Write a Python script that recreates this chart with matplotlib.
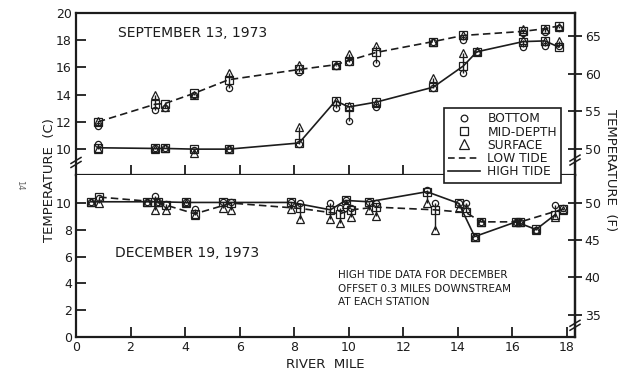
import matplotlib
matplotlib.use('Agg')
import matplotlib.pyplot as plt
import numpy as np
from matplotlib.lines import Line2D

plt.rcParams['font.family'] = ['DejaVu Sans']
INK = '#1c1c1c'

# ---------------- data (temperature in deg C, position in river miles) ----------------
sep_low_mile = [0.8, 2.9, 3.26, 4.33, 5.6, 8.18, 9.52, 10.0, 11.0, 13.1, 14.2, 16.4, 17.2, 17.7]
sep_low_bottom = [11.7, 12.9, 13.0, 14.0, 14.5, 15.7, 16.1, 16.4, 16.3, 17.9, 18.0, 18.5, 18.6, 18.9]
sep_low_mid = [12.0, 13.3, 13.35, 14.1, 15.1, 15.85, 16.2, 16.5, 17.1, 17.9, 18.35, 18.65, 18.85, 19.05]
sep_low_surface = [12.1, 14.0, 13.1, 14.0, 15.6, 16.2, 16.15, 17.0, 17.6, 17.9, 18.4, 18.8, 18.85, 19.0]

sep_high_mile = [0.8, 2.9, 3.26, 4.33, 5.6, 8.18, 9.52, 10.0, 11.0, 13.1, 14.2, 14.7, 16.4, 17.2, 17.7]
sep_high_bottom = [10.4, 10.05, 10.05, 9.9, 10.0, 10.4, 13.0, 12.1, 13.1, 14.5, 15.6, 17.15, 17.5, 17.6, 17.6]
sep_high_mid = [10.1, 10.05, 10.05, 10.0, 10.0, 10.45, 13.55, 13.1, 13.45, 14.55, 16.1, 17.15, 17.9, 17.95, 17.5]
sep_high_surface = [10.0, 10.0, 10.05, 9.7, 10.0, 11.6, 13.5, 13.2, 13.4, 15.25, 17.05, 17.2, 18.05, 17.95, 17.95]

dec_low_mile = [0.85, 2.9, 3.3, 4.36, 5.7, 8.23, 9.67, 10.1, 11.0, 13.15, 14.3, 14.86, 16.3, 17.85]
dec_low_bottom = [10.4, 10.5, 9.9, 9.55, 10.1, 10.0, 9.6, 9.6, 10.0, 10.0, 10.0, 8.6, 8.6, 9.6]
dec_low_mid = [10.45, 10.1, 9.85, 9.2, 10.0, 9.6, 9.2, 9.5, 9.7, 9.5, 9.3, 8.6, 8.6, 9.55]
dec_low_surface = [10.0, 9.5, 9.5, 9.1, 9.5, 8.85, 8.5, 9.0, 9.05, 8.0, 9.6, 8.6, 8.6, 9.5]

dec_high_mile = [0.55, 2.6, 3.0, 4.05, 5.39, 7.9, 9.33, 9.89, 10.74, 12.87, 14.04, 14.62, 16.14, 16.87, 17.55]
dec_high_bottom = [10.1, 10.1, 10.1, 10.05, 10.05, 10.05, 10.0, 10.2, 10.1, 11.0, 10.0, 7.5, 8.6, 8.0, 9.85]
dec_high_mid = [10.1, 10.1, 10.1, 10.05, 10.05, 10.05, 9.5, 10.2, 10.1, 10.85, 9.98, 7.5, 8.6, 8.03, 9.1]
dec_high_surface = [10.05, 10.1, 10.1, 10.0, 9.6, 9.55, 8.8, 9.9, 9.5, 9.98, 9.6, 7.5, 8.6, 8.0, 9.0]

x_ticks = [0, 2, 4, 6, 8, 10, 12, 14, 16, 18]
top_c_ticks = [10, 12, 14, 16, 18, 20]
bot_c_ticks = [0, 2, 4, 6, 8, 10]
top_f_ticks = [50, 55, 60, 65]
bot_f_ticks = [35, 40, 45, 50]

# ---------------- figure ----------------
fig = plt.figure(figsize=(6.18, 3.73), dpi=100)
L, R = 76 / 618, 575 / 618
ax_top = fig.add_axes([L, 1 - 175 / 373, R - L, (175 - 13) / 373])
ax_bot = fig.add_axes([L, 1 - 337 / 373, R - L, (337 - 175) / 373])


def c2f(c):
    return np.asarray(c) * 9 / 5 + 32


def f2c(f):
    return (np.asarray(f) - 32) * 5 / 9


def style(ax):
    for s in ax.spines.values():
        s.set_linewidth(1.6)
        s.set_color(INK)
    ax.tick_params(direction='in', length=7, width=1.3, color=INK,
                   labelsize=9, labelcolor=INK, pad=3)


def draw_series(ax, mile, bottom, mid, surface, ls):
    mile = np.asarray(mile)
    stack = np.vstack([bottom, mid, surface])
    ax.vlines(mile, stack.min(axis=0), stack.max(axis=0), color=INK, lw=1.0, zorder=2)
    if ls == '--':
        ax.plot(mile, mid, color=INK, lw=1.2, ls='--', dashes=(4.5, 2.5), zorder=2)
    else:
        ax.plot(mile, mid, color=INK, lw=1.2, ls='-', zorder=2)
    kw = dict(ls='none', mfc='none', mec=INK, mew=0.9, zorder=3)
    ax.plot(mile, bottom, marker='o', ms=4.5, **kw)
    ax.plot(mile, mid, marker='s', ms=5.4, **kw)
    ax.plot(mile, surface, marker='^', ms=6.2, **kw)


for ax in (ax_top, ax_bot):
    style(ax)
    ax.set_xlim(0, 18.3)

# top panel (September)
ax_top.set_ylim(8.1, 20)
ax_top.set_yticks(top_c_ticks)
ax_top.set_xticks(x_ticks[1:-1])
ax_top.tick_params(axis='x', labelbottom=False)
draw_series(ax_top, sep_low_mile, sep_low_bottom, sep_low_mid, sep_low_surface, '--')
draw_series(ax_top, sep_high_mile, sep_high_bottom, sep_high_mid, sep_high_surface, '-')
ax_top.text(1.55, 18.5, 'SEPTEMBER 13, 1973', fontsize=10, color=INK, va='center', ha='left')

# bottom panel (December)
ax_bot.set_ylim(0, 12.1)
ax_bot.set_yticks(bot_c_ticks)
ax_bot.set_xticks(x_ticks)
ax_bot.spines['top'].set_visible(False)
draw_series(ax_bot, dec_low_mile, dec_low_bottom, dec_low_mid, dec_low_surface, '--')
draw_series(ax_bot, dec_high_mile, dec_high_bottom, dec_high_mid, dec_high_surface, '-')
ax_bot.text(1.43, 6.3, 'DECEMBER 19, 1973', fontsize=10, color=INK, va='center', ha='left')
ax_bot.text(9.6, 5.0, 'HIGH TIDE DATA FOR DECEMBER\nOFFSET 0.3 MILES DOWNSTREAM\nAT EACH STATION',
            fontsize=7.5, color=INK, va='top', ha='left', linespacing=1.45)
ax_bot.set_xlabel('RIVER  MILE', fontsize=9.5, color=INK, labelpad=3)

# right-hand Fahrenheit axes
for ax, fticks in ((ax_top, top_f_ticks), (ax_bot, bot_f_ticks)):
    sec = ax.secondary_yaxis('right', functions=(c2f, f2c))
    sec.set_yticks(fticks)
    sec.tick_params(direction='inout', length=10, width=1.3, color=INK,
                    labelsize=9, labelcolor=INK, pad=2)
    sec.spines['right'].set_linewidth(1.6)
    sec.spines['right'].set_color(INK)


# axis break marks
def brk(ax, xf, yf, hpx):
    dx = 5 / 499
    dy = 3 / hpx
    off = 4 / hpx
    for o in (0, off):
        ax.plot([xf - dx, xf + dx], [yf - dy + o, yf + dy + o], color=INK, lw=1.1,
                transform=ax.transAxes, clip_on=False, zorder=5)


brk(ax_top, 0.0, 0.065, 162)
brk(ax_top, 1.0, 0.08, 162)
brk(ax_bot, 1.0, 0.06, 162)

fig.text(50 / 618, 1 - 180 / 373, 'TEMPERATURE  (C)', rotation=90, fontsize=9.5,
         color=INK, ha='center', va='center')
fig.text(611 / 618, 1 - 170 / 373, 'TEMPERATURE  (F)', rotation=-90, fontsize=9.5,
         color=INK, ha='center', va='center')
fig.text(20 / 618, 1 - 185 / 373, '14', rotation=-90, fontsize=6, color='#666666',
         ha='center', va='center')

# legend
handles = [
    Line2D([], [], ls='none', marker='o', mfc='none', mec=INK, ms=4.8, mew=0.9),
    Line2D([], [], ls='none', marker='s', mfc='none', mec=INK, ms=5.8, mew=0.9),
    Line2D([], [], ls='none', marker='^', mfc='none', mec=INK, ms=6.8, mew=0.9),
    Line2D([], [], ls='--', color=INK, lw=1.2, dashes=(4, 2.5)),
    Line2D([], [], ls='-', color=INK, lw=1.2),
]
labels = ['BOTTOM', 'MID-DEPTH', 'SURFACE', 'LOW TIDE', 'HIGH TIDE']
leg = fig.legend(handles, labels, loc='upper left', bbox_to_anchor=(444 / 618, 1 - 108 / 373),
                 frameon=True, fancybox=False, edgecolor=INK, framealpha=1, fontsize=8.8,
                 handlelength=2.6, handletextpad=0.6, labelspacing=0.02, borderpad=0.35,
                 borderaxespad=0)
leg.get_frame().set_linewidth(1.2)
for t in leg.get_texts():
    t.set_color(INK)

fig.savefig('out.png', dpi=100)
